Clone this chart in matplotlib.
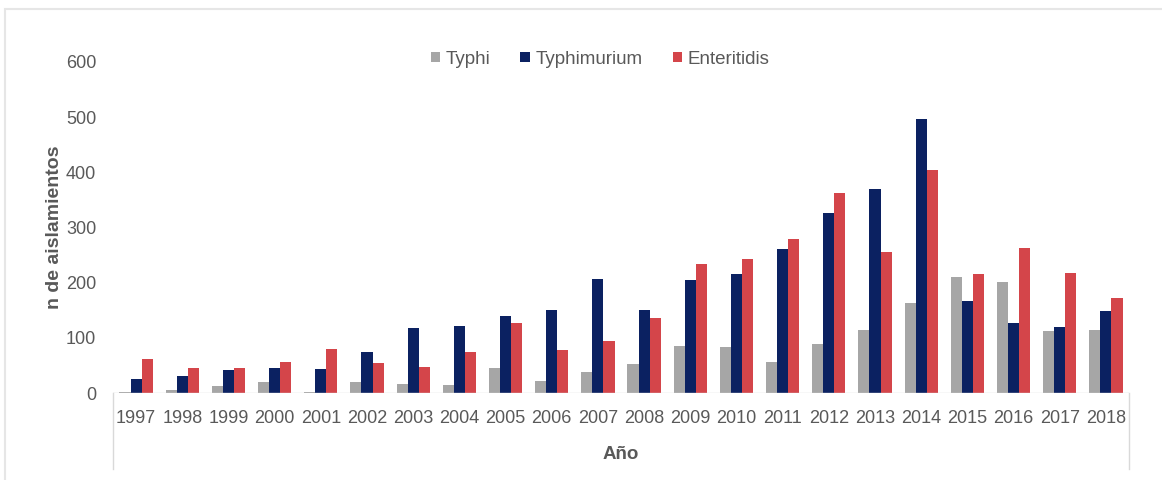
import numpy as np
import matplotlib
matplotlib.use('Agg')
import matplotlib.pyplot as plt
from matplotlib.patches import Rectangle

# Data
years = [str(y) for y in range(1997, 2019)]
typhi = [1, 5, 12, 20, 1, 20, 17, 15, 46, 21, 38, 53, 86, 83, 57, 88, 115, 163, 210, 202, 112, 115]
typhimurium = [26, 30, 42, 45, 43, 75, 118, 121, 140, 151, 207, 151, 205, 216, 261, 326, 370, 497, 167, 127, 119, 148]
enteritidis = [62, 46, 45, 57, 80, 55, 48, 74, 126, 78, 94, 136, 234, 242, 279, 362, 255, 405, 216, 263, 217, 173]

series_names = ['Typhi', 'Typhimurium', 'Enteritidis']
colors = ['#A6A6A6', '#0B2161', '#D4454A']
text_color = '#595959'

plt.rcParams['font.family'] = ['Liberation Sans', 'DejaVu Sans']

fig = plt.figure(figsize=(11.62, 4.8), dpi=100)
ax = fig.add_axes([113 / 1162, 87 / 480, 1016 / 1162, 331 / 480])

x = np.arange(len(years))
w = 0.24
for i, (vals, name, c) in enumerate(zip([typhi, typhimurium, enteritidis], series_names, colors)):
    ax.bar(x + (i - 1) * w, vals, w, color=c, label=name, linewidth=0)

ax.set_xlim(-0.5, len(years) - 0.5)
ax.set_ylim(0, 600)
ax.set_yticks(range(0, 601, 100))
ax.set_xticks(x)
ax.set_xticklabels(years)
ax.tick_params(axis='both', length=0, labelsize=13, labelcolor=text_color)
ax.tick_params(axis='x', pad=12)
ax.tick_params(axis='y', pad=12)
for s in ax.spines.values():
    s.set_visible(False)

# faint category axis baseline and outer separators
ax.axhline(0, color='#D9D9D9', linewidth=1)
ax.axvline(-0.5, ymin=-0.23, ymax=0, color='#D9D9D9', linewidth=1, clip_on=False)
ax.axvline(len(years) - 0.5, ymin=-0.23, ymax=0, color='#D9D9D9', linewidth=1, clip_on=False)

ax.set_ylabel('n de aislamientos', fontsize=14, fontweight='bold', color=text_color, labelpad=2)
ax.set_xlabel('Año', fontsize=13.5, fontweight='bold', color=text_color, labelpad=14)

leg = ax.legend(loc='center', bbox_to_anchor=(600 / 1162, 1 - 59 / 480), bbox_transform=fig.transFigure,
                ncol=3, frameon=False, fontsize=13.5, handlelength=0.5, handleheight=0.5,
                handletextpad=0.3, columnspacing=1.6)
for t in leg.get_texts():
    t.set_color(text_color)

# faint outer chart frame
fig.patches.append(Rectangle((5 / 1162, -0.1), 1.2, (480 - 9) / 480 + 0.1, transform=fig.transFigure,
                             fill=False, edgecolor='#E6E6E6', linewidth=1.5))

fig.savefig('out.png', dpi=100)
